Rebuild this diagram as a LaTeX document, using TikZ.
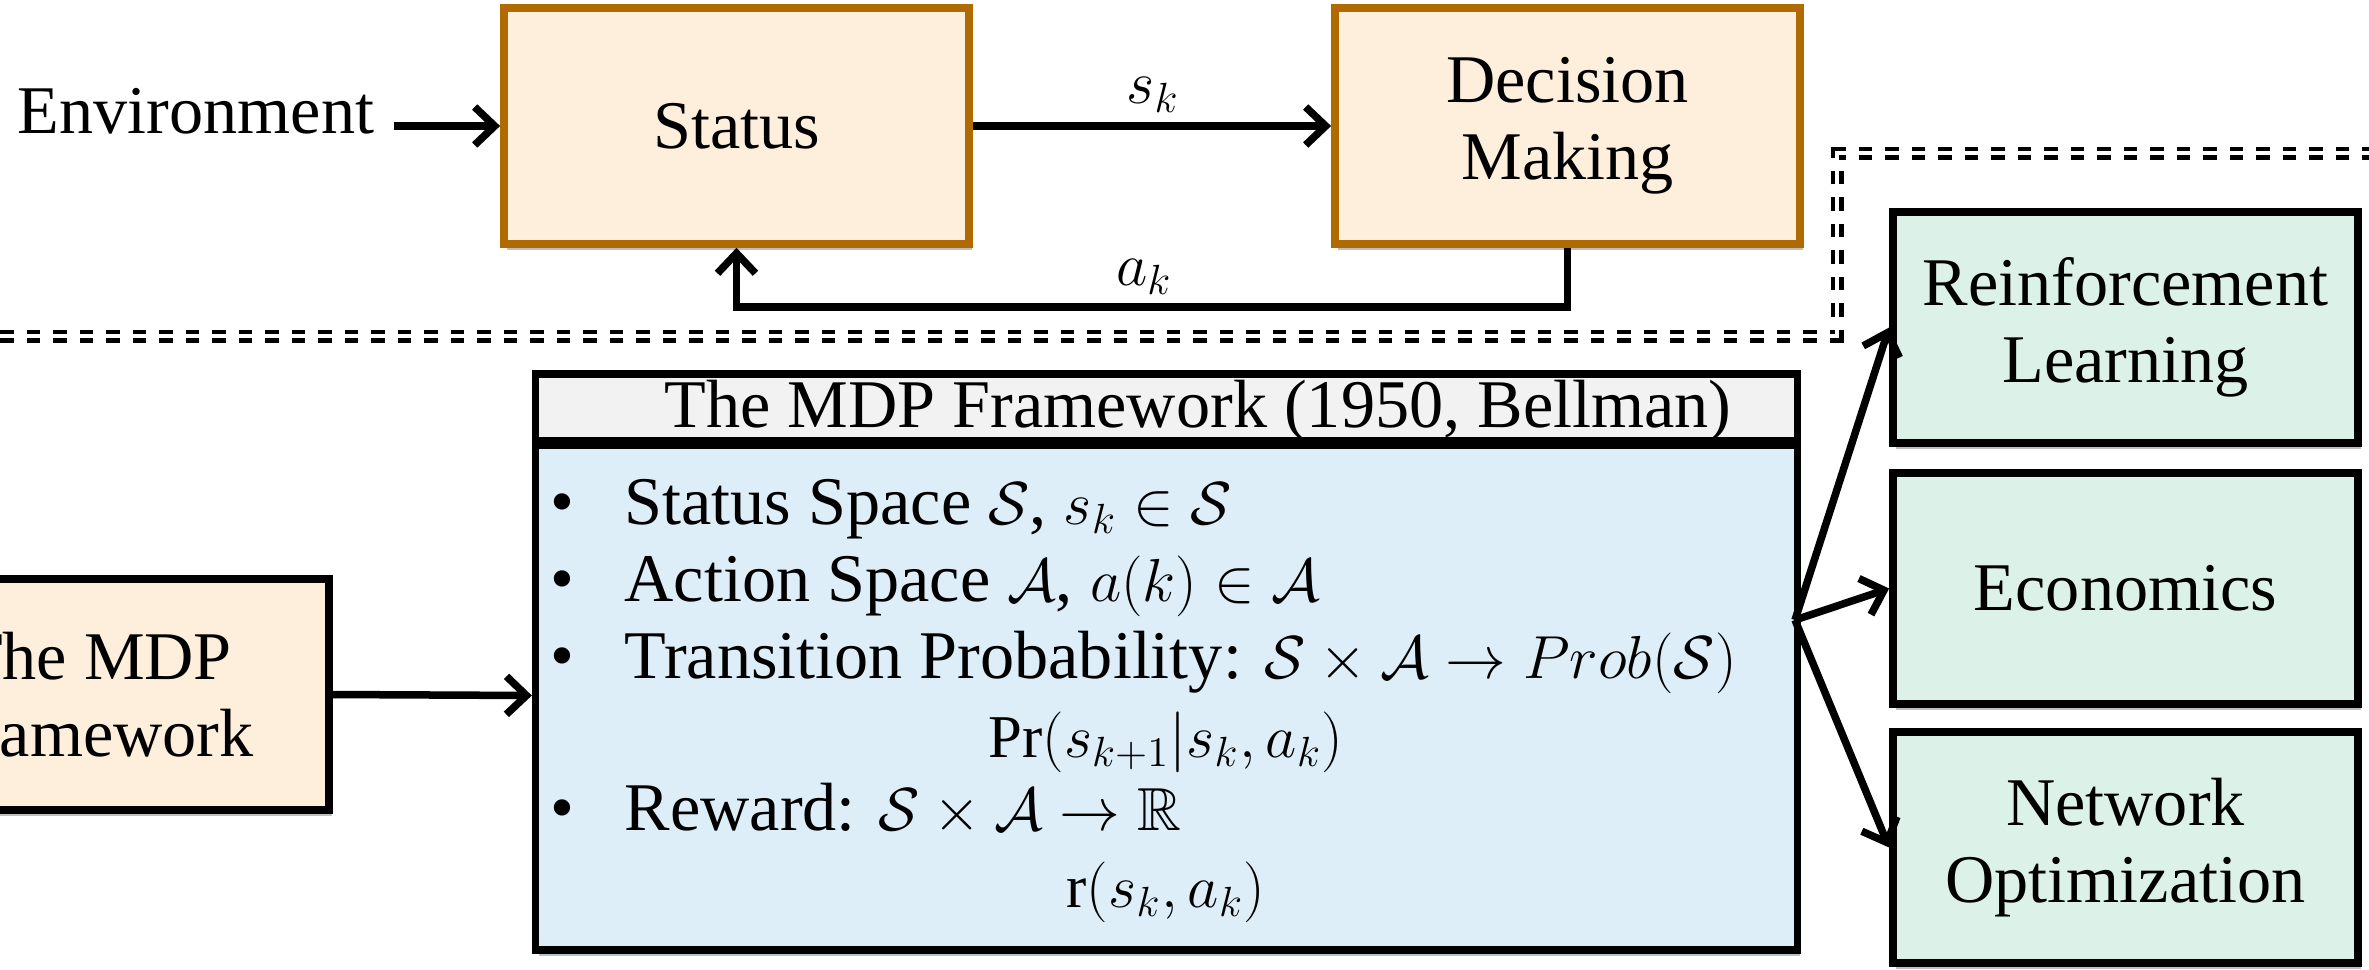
\documentclass[tikz,border=0pt]{standalone}
\usepackage{amsmath,amssymb}
\usepackage{fontspec}
\setmainfont{Liberation Serif}
\usetikzlibrary{arrows.meta,shadows}
\DeclareMathSizes{19.4}{17.28}{12}{10}

\definecolor{peach}{HTML}{FEEFDC}
\definecolor{brownb}{HTML}{B06A00}
\definecolor{hdrgray}{HTML}{F2F2F2}
\definecolor{bodyblue}{HTML}{DDEEF8}
\definecolor{mint}{HTML}{DCF2E8}

\begin{document}
\begin{tikzpicture}[x=0.01cm,y=-0.01cm,
  font=\fontsize{19.4}{22}\selectfont,
  shadowed/.style={drop shadow={shadow xshift=0.03cm,shadow yshift=-0.06cm,opacity=0.25,fill=black}},
  obox/.style={draw=brownb,fill=peach,line width=0.075cm,minimum width=4.65cm,minimum height=2.36cm,align=center,inner sep=0pt,shadowed},
  kbox/.style={draw=black,line width=0.075cm,minimum width=4.65cm,minimum height=2.31cm,align=center,inner sep=0pt,shadowed},
  arr/.style={line width=0.075cm,-{Straight Barb[length=0.2cm,width=0.38cm]}},
  txt/.style={inner sep=0pt},
  sepout/.style={line width=0.13cm,dash pattern=on 0.135cm off 0.13cm},
  sepin/.style={line width=0.035cm,white}
]
\clip (0,0) rectangle (2369,969);

% separator
\coordinate (s1) at (0,336);
\coordinate (s2) at (1837,336);
\coordinate (s3) at (1837,153);
\coordinate (s4) at (2369,153);
\draw[sepout] (s1) -- (s2) -- (s3) -- (s4);
\draw[sepin] (s1) -- (s2) -- (s3) -- (s4);

% top row
\node[obox] (status) at (736.5,126) {Status};
\node[obox] (dec) at (1567.5,126) {Decision\\Making};
\node[txt,anchor=base] (env) at (196,133) {Environment};
\path (env.east |- status.west) ++(19,0) coordinate (envout);
\draw[arr] (envout) -- (status.west);
\draw[arr] (status.east) -- (dec.west);
\node[txt,anchor=base] (sk) at (1153,103) {$s_k$};
\coordinate (fb) at (1567.5,307);
\draw[arr] (dec.south) -- (fb) -| (status.south);
\node[txt,anchor=base] (ak) at (1144,285) {$a_k$};

% left box
\node[kbox,fill=peach] (lbox) at (96.5,694.5) {The MDP\\Framework};

% MDP box
\node[draw=black,fill=hdrgray,line width=0.075cm,minimum width=12.61cm,minimum height=0.67cm,inner sep=0pt,shadowed] (mdphead) at (1166.5,407.5) {};
\node[draw=black,fill=bodyblue,line width=0.075cm,minimum width=12.61cm,minimum height=5.09cm,inner sep=0pt,shadowed] (mdpbody) at (1166.5,695.5) {};
\draw[line width=0.075cm] (mdphead.south west) -- (mdphead.south east);
\node[txt,anchor=base] (htxt) at (1198,427) {The MDP Framework (1950, Bellman)};

\node[txt,anchor=base] (b1) at (562,524) {\textbullet};
\node[txt,anchor=base west] (t1) at (624,524) {Status Space $\mathcal{S}$, $s_k \in \mathcal{S}$};
\node[txt,anchor=base] (b2) at (562,601) {\textbullet};
\node[txt,anchor=base west] (t2) at (624,601) {Action Space $\mathcal{A}$, $a(k) \in \mathcal{A}$};
\node[txt,anchor=base] (b3) at (562,678) {\textbullet};
\node[txt,anchor=base west] (t3) at (624,678) {Transition Probability: $\mathcal{S} \times \mathcal{A} \rightarrow Prob(\mathcal{S})$};
\node[txt,anchor=base] (t4) at (1166,757) {$\Pr(s_{k+1}|s_k, a_k)$};
\node[txt,anchor=base] (b5) at (562,830) {\textbullet};
\node[txt,anchor=base west] (t5) at (624,830) {Reward: $\mathcal{S} \times \mathcal{A} \rightarrow \mathbb{R}$};
\node[txt,anchor=base] (t6) at (1166,907) {$\mathrm{r}(s_k, a_k)$};

\draw[arr] (lbox.east) -- (mdpbody.west);

% right boxes
\node[kbox,fill=mint] (rl) at (2125.5,327.5) {Reinforcement\\Learning};
\node[kbox,fill=mint] (eco) at (2125.5,588.5) {Economics};
\node[kbox,fill=mint] (net) at (2125.5,847.5) {Network\\Optimization};

\coordinate (fan) at (1795,620);
\draw[arr] (fan) -- (rl.west);
\draw[arr] (fan) -- (eco.west);
\draw[arr] (fan) -- (net.west);
\end{tikzpicture}
\end{document}
